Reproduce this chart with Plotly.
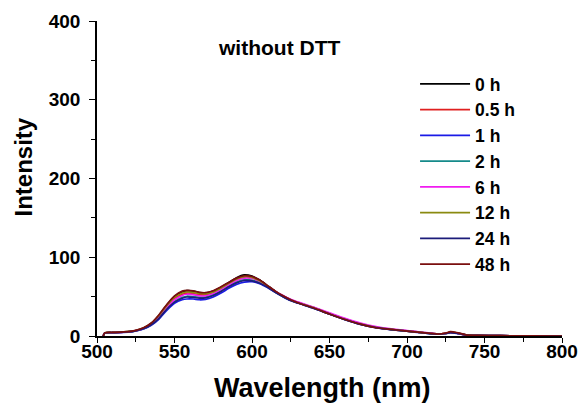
import plotly.graph_objects as go

wavelength = [504, 505, 510, 520, 525, 530, 535, 540, 545, 550,
              555, 558, 562, 566, 570, 575, 580, 585, 590, 595,
              600, 605, 610, 615, 620, 625, 630, 640, 650, 660,
              670, 680, 690, 700, 710, 720, 725, 728, 732, 738,
              745, 760, 780, 800]

labels = ["0 h", "0.5 h", "1 h", "2 h", "6 h", "12 h", "24 h", "48 h"]
colors = ["#000000", "#e02020", "#1a1ae6", "#158a8a", "#f01cf0", "#8a8a10", "#1c1c7a", "#7a0e0e"]

i_0h = [0, 4, 4.5, 5.5, 7, 10, 16, 26, 39, 50,
        56, 57.5, 57, 55, 54.5, 57, 62, 68, 74, 77.5,
        76, 71, 64, 57, 51, 46, 42.5, 36, 28.5, 21.5,
        15.5, 11, 8.5, 6.5, 4.5, 2.5, 3.5, 5, 4, 1.5,
        0.8, 0.4, 0.2, 0]
i_05h = [0, 4, 4.4, 5.3, 6.8, 9.8, 15.5, 25, 37, 47.5,
         53, 54.5, 54, 52.5, 52.5, 55, 60, 66, 71.5, 74.5,
         74, 70, 63.5, 56.5, 50.5, 45.5, 42, 35.5, 28.2, 21.2,
         15.2, 10.8, 8.2, 6.3, 4.3, 2.4, 3.3, 4.6, 3.7, 1.4,
         0.7, 0.4, 0.2, 0]
i_1h = [0, 4, 4.2, 5, 6.4, 8.8, 13.5, 21.5, 32.5, 41.5,
        46, 47, 47, 46, 46.5, 49.5, 54.5, 60.5, 65.5, 68.5,
        69, 66.5, 61.5, 55.5, 50, 45, 41.5, 35, 27.8, 20.8,
        14.8, 10.6, 8, 6, 4, 2.2, 3.1, 4.2, 3.4, 1.3,
        0.7, 0.4, 0.2, 0]
i_2h = [0, 4, 4.3, 5.2, 6.6, 9.3, 14.5, 23, 34.5, 44,
        49, 50.5, 50, 49, 49.5, 52.5, 57.5, 63.5, 68.5, 71.5,
        71, 68, 62.5, 56, 50.5, 45.5, 42, 35.5, 28, 21,
        15, 10.8, 8.2, 6.2, 4.2, 2.3, 3.2, 4.4, 3.5, 1.3,
        0.7, 0.4, 0.2, 0]
i_6h = [0, 4, 4.4, 5.3, 6.8, 9.6, 15, 24, 36, 46,
        51.5, 53, 52.5, 51, 51, 54, 59, 65, 70.5, 73.5,
        73, 69.5, 63.5, 57, 51.5, 46.5, 43, 36.5, 29.5, 22.5,
        16.5, 12, 9, 7, 4.8, 2.6, 3.3, 4.5, 3.6, 1.4,
        0.8, 0.4, 0.2, 0]
i_12h = [0, 4, 4.5, 5.5, 7, 10.2, 16, 26, 38.5, 49,
         54.5, 56, 55.5, 54, 53.5, 56, 61, 67, 72.5, 75.5,
         74.5, 70, 63.5, 56.5, 50.5, 45.5, 42, 35.5, 28, 21,
         15, 10.8, 8.3, 6.3, 4.3, 2.4, 3.4, 4.8, 3.8, 1.4,
         0.8, 0.4, 0.2, 0]
i_24h = [0, 4, 4.3, 5.2, 6.6, 9.2, 14.3, 22.5, 34, 43,
         48, 49.5, 49, 48, 48.5, 51.5, 56.5, 62.5, 67.5, 70.5,
         70, 67, 62, 55.5, 50, 45, 41.5, 35, 27.8, 20.8,
         14.8, 10.6, 8.1, 6.1, 4.1, 2.3, 3.2, 4.4, 3.5, 1.3,
         0.7, 0.4, 0.2, 0]
i_48h = [0, 4, 4.5, 5.5, 7.2, 10.5, 16.5, 27, 40, 51,
         57, 58, 57.5, 55.5, 55, 57.5, 62.5, 68, 73.5, 76.5,
         75.5, 71, 64, 57, 51, 46, 42, 35.5, 28, 21,
         15, 10.5, 8.3, 6.3, 4.3, 2.5, 3.8, 5.5, 4.5, 1.5,
         0.8, 0.4, 0.2, 0]

series = [i_0h, i_05h, i_1h, i_2h, i_6h, i_12h, i_24h, i_48h]

x_ticks = [500, 550, 600, 650, 700, 750, 800]
y_ticks = [0, 100, 200, 300, 400]

FONT = "Arial, Liberation Sans, sans-serif"

fig = go.Figure()
for name, col, vals in zip(labels, colors, series):
    fig.add_trace(go.Scatter(
        x=wavelength, y=vals, mode="lines", name=name,
        line=dict(color=col, width=1.7, shape="spline", smoothing=0.6),
        legendgroup=name,
    ))

axis_common = dict(
    showline=True, linecolor="black", linewidth=1.6,
    ticks="outside", tickwidth=1.4, tickcolor="black",
    showgrid=False, zeroline=False, mirror=False, automargin=False,
    tickfont=dict(family=FONT, size=19, color="black", weight="bold"),
)

fig.update_xaxes(range=[500, 800], tickvals=x_ticks, ticklen=5, ticklabelstandoff=-8,
                 minor=dict(ticks="outside", ticklen=4, dtick=25, tickcolor="black", tickwidth=1.2),
                 **axis_common)
fig.update_yaxes(range=[0, 400], tickvals=y_ticks, ticklen=6, ticklabelstandoff=5,
                 minor=dict(ticks="outside", ticklen=4, dtick=50, tickcolor="black", tickwidth=1.2),
                 **axis_common)

# page body has an 8px margin; figure sized to fit the window
fig.update_layout(
    width=579, height=401,
    margin=dict(l=89, r=25, t=13, b=73, autoexpand=False),
    plot_bgcolor="white", paper_bgcolor="white",
    showlegend=True,
    legend=dict(
        x=0.684, y=0.857, xanchor="left", yanchor="top",
        font=dict(family=FONT, size=17.5, color="black", weight="bold"),
        bgcolor="rgba(0,0,0,0)", tracegroupgap=0, itemwidth=50,
    ),
    annotations=[
        dict(text="without DTT", x=0.391, y=0.917, xref="paper", yref="paper",
             showarrow=False, xanchor="center", yanchor="middle",
             font=dict(family=FONT, size=21, color="black", weight="bold")),
        dict(text="Intensity", x=-0.159, y=0.535, xref="paper", yref="paper",
             showarrow=False, xanchor="center", yanchor="middle", textangle=-90,
             font=dict(family=FONT, size=24, color="black", weight="bold")),
        dict(text="Wavelength (nm)", x=0.486, y=-0.165, xref="paper", yref="paper",
             showarrow=False, xanchor="center", yanchor="middle",
             font=dict(family=FONT, size=27, color="black", weight="bold")),
    ],
)

fig.write_html("out.html")
